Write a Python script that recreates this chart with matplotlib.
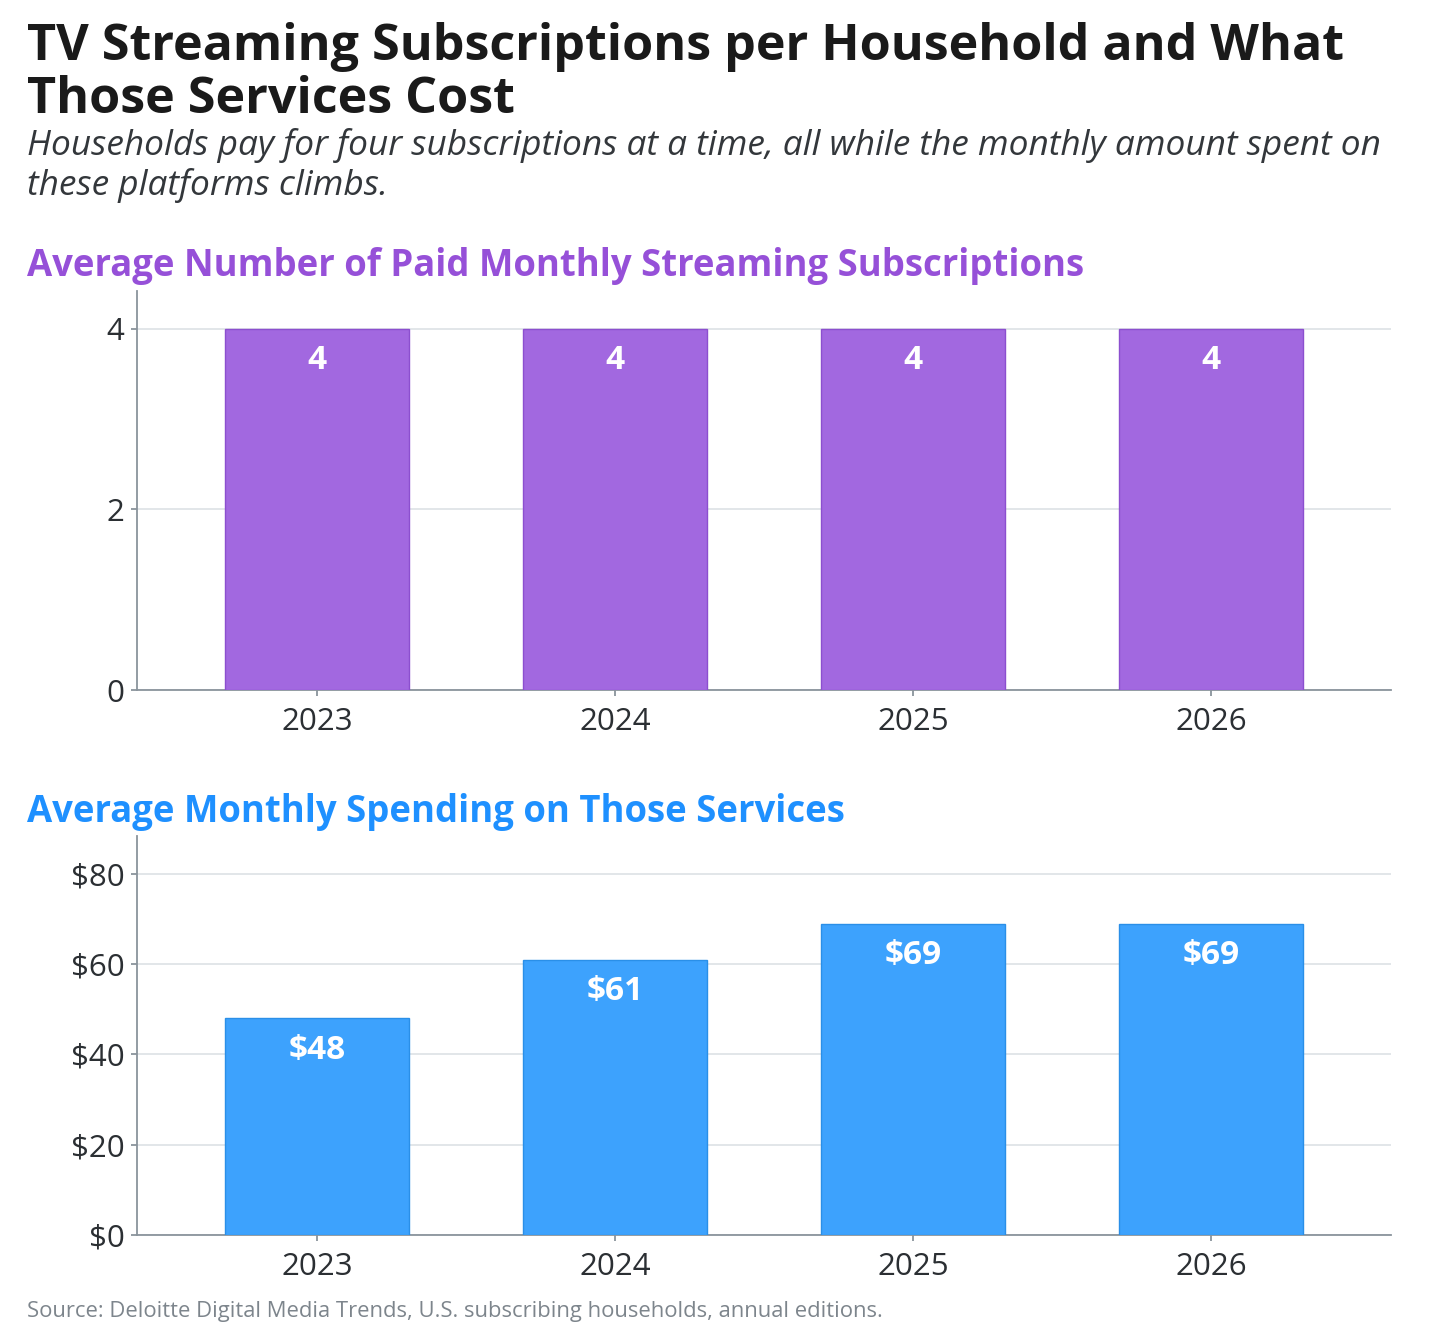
import matplotlib
matplotlib.use("Agg")
import matplotlib.pyplot as plt

plt.rcParams["font.family"] = ["Open Sans", "DejaVu Sans"]

years = ["2023", "2024", "2025", "2026"]
subscriptions = [4, 4, 4, 4]
spending = [48, 61, 69, 69]

sub_ticks = [0, 2, 4]
spend_ticks = [0, 20, 40, 60, 80]

TITLE = ["TV Streaming Subscriptions per Household and What", "Those Services Cost"]
SUBTITLE = ["Households pay for four subscriptions at a time, all while the monthly amount spent on",
            "these platforms climbs."]
PANEL1 = "Average Number of Paid Monthly Streaming Subscriptions"
PANEL2 = "Average Monthly Spending on Those Services"
SOURCE = "Source: Deloitte Digital Media Trends, U.S. subscribing households, annual editions."

PURPLE = "#A268E0"
PURPLE_EDGE = "#8C4FCF"
PURPLE_TXT = "#9650D8"
BLUE = "#3DA2FD"
BLUE_EDGE = "#2A8FE8"
BLUE_TXT = "#1E90FF"
AXIS = "#8A949C"
GRID = "#DDE1E5"
TICKTXT = "#2B2F33"

W, H = 1456, 1336
fig = plt.figure(figsize=(W / 100, H / 100), dpi=100)


def box(l, t, r, b):
    return [l / W, 1 - b / H, (r - l) / W, (b - t) / H]


def panel(ax, vals, ticks, ymax, color, edge, fmt):
    x = list(range(len(years)))
    bars = ax.bar(x, vals, width=0.617, color=color, edgecolor=edge, linewidth=1, zorder=3)
    ax.set_xlim(-0.604, 3.604)
    ax.set_ylim(0, ymax)
    ax.set_xticks(x)
    ax.set_xticklabels(years)
    ax.set_yticks(ticks)
    ax.set_yticklabels([fmt(t) for t in ticks])
    ax.grid(axis="y", color=GRID, linewidth=1.2, zorder=0)
    for s in ["top", "right"]:
        ax.spines[s].set_visible(False)
    for s in ["left", "bottom"]:
        ax.spines[s].set_color(AXIS)
        ax.spines[s].set_linewidth(1.3)
    ax.tick_params(axis="both", colors=AXIS, length=4, width=1.3, labelsize=22.5,
                   labelcolor=TICKTXT, pad=5)
    ax.tick_params(axis="x", pad=8)
    for b, v in zip(bars, vals):
        ax.annotate(fmt(v), (b.get_x() + b.get_width() / 2, v), xytext=(0, -23),
                    textcoords="offset points", ha="center", va="center",
                    color="white", fontsize=24, fontweight="bold", zorder=4)


ax1 = fig.add_axes(box(137, 291, 1391, 690))
panel(ax1, subscriptions, sub_ticks, 4.42, PURPLE, PURPLE_EDGE, lambda v: f"{v}")

ax2 = fig.add_axes(box(137, 836, 1391, 1235))
panel(ax2, spending, spend_ticks, 88.4, BLUE, BLUE_EDGE, lambda v: f"${v}")

for line, y in zip(TITLE, [60, 113]):
    fig.text(27 / W, 1 - y / H, line, fontsize=36.2, fontweight="bold", color="#1A1A1A",
             ha="left", va="baseline")
for line, y in zip(SUBTITLE, [155, 195]):
    fig.text(27 / W, 1 - y / H, line, fontsize=25.4, style="italic", color="#33373B",
             ha="left", va="baseline")
fig.text(27 / W, 1 - 276 / H, PANEL1, fontsize=26.3, fontweight="bold", color=PURPLE_TXT,
         ha="left", va="baseline")
fig.text(27 / W, 1 - 822 / H, PANEL2, fontsize=26.3, fontweight="bold", color=BLUE_TXT,
         ha="left", va="baseline")
fig.text(27 / W, 1 - 1317 / H, SOURCE, fontsize=15.8, color="#7D858C", ha="left", va="baseline")

fig.savefig("out.png", dpi=100)
